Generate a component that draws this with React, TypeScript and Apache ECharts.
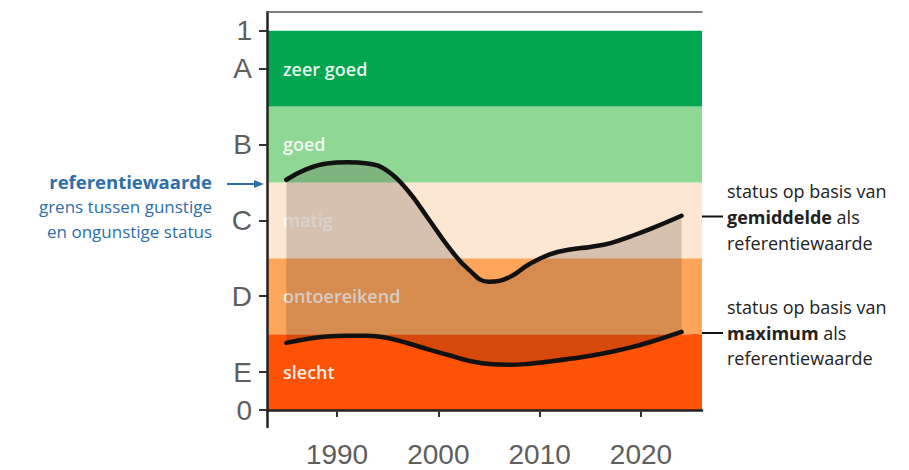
import React, { useEffect, useRef } from "react";
import * as echarts from "echarts";

const years = [1985, 1987, 1989, 1991, 1993, 1995, 1997, 1999, 2001, 2003, 2005, 2007, 2009, 2011, 2013, 2015, 2017, 2019, 2021, 2024];
const upperValues = [0.607, 0.635, 0.650, 0.653, 0.650, 0.630, 0.578, 0.505, 0.430, 0.370, 0.338, 0.350, 0.385, 0.410, 0.423, 0.430, 0.440, 0.458, 0.478, 0.512];
const lowerValues = [0.177, 0.187, 0.194, 0.196, 0.196, 0.190, 0.176, 0.160, 0.145, 0.130, 0.121, 0.119, 0.122, 0.128, 0.135, 0.143, 0.153, 0.165, 0.180, 0.206];

const bandNames = ["slecht", "ontoereikend", "matig", "goed", "zeer goed"];
const bandBounds = [0, 0.2, 0.4, 0.6, 0.8, 1];
const bandColors = ["#FE5206", "#FDA55B", "#FDE7D3", "#8FD795", "#02A650"];

const yTickValues = [0, 0.1, 0.3, 0.5, 0.7, 0.9, 1];
const yTickLabels = ["0", "E", "D", "C", "B", "A", "1"];
const xTickValues = [1990, 2000, 2010, 2020];

const FONT = "Open Sans";
const SMOOTH = 0.45;

// Same smoothing scheme as the ECharts line series, so the ribbon edges follow the curves.
function drawSegment(ctx: any, pts: number[], start: number, segLen: number, dir: number, smooth: number) {
  let prevX = 0, prevY = 0, cpx0 = 0, cpy0 = 0, cpx1 = 0, cpy1 = 0, nextCpx0 = 0, nextCpy0 = 0;
  let idx = start;
  for (let k = 0; k < segLen; k++) {
    const x = pts[idx * 2];
    const y = pts[idx * 2 + 1];
    if (k === 0) {
      if (dir > 0) ctx.moveTo(x, y);
      else ctx.lineTo(x, y);
      cpx0 = x;
      cpy0 = y;
    } else if (smooth > 0) {
      const nextIdx = idx + dir;
      if (k + 1 >= segLen) {
        cpx1 = x;
        cpy1 = y;
      } else {
        const nextX = pts[nextIdx * 2];
        const nextY = pts[nextIdx * 2 + 1];
        let vx = nextX - prevX;
        let vy = nextY - prevY;
        const lenPrev = Math.hypot(x - prevX, y - prevY);
        const lenNext = Math.hypot(nextX - x, nextY - y);
        const ratio = lenNext / (lenNext + lenPrev);
        nextCpx0 = x + vx * smooth * ratio;
        nextCpy0 = y + vy * smooth * ratio;
        nextCpx0 = Math.max(Math.min(nextCpx0, Math.max(nextX, x)), Math.min(nextX, x));
        nextCpy0 = Math.max(Math.min(nextCpy0, Math.max(nextY, y)), Math.min(nextY, y));
        vx = nextCpx0 - x;
        vy = nextCpy0 - y;
        cpx1 = x - (vx * lenPrev) / lenNext;
        cpy1 = y - (vy * lenPrev) / lenNext;
        cpx1 = Math.max(Math.min(cpx1, Math.max(prevX, x)), Math.min(prevX, x));
        cpy1 = Math.max(Math.min(cpy1, Math.max(prevY, y)), Math.min(prevY, y));
        vx = x - cpx1;
        vy = y - cpy1;
        nextCpx0 = x + (vx * lenNext) / lenPrev;
        nextCpy0 = y + (vy * lenNext) / lenPrev;
      }
      ctx.bezierCurveTo(cpx0, cpy0, cpx1, cpy1, x, y);
      cpx0 = nextCpx0;
      cpy0 = nextCpy0;
    } else {
      ctx.lineTo(x, y);
    }
    prevX = x;
    prevY = y;
    idx += dir;
  }
}

const RibbonShape = (echarts.graphic as any).extendShape({
  type: "ribbon",
  shape: { upper: [] as number[], lower: [] as number[], smooth: 0 },
  buildPath(ctx: any, shape: any) {
    const n = shape.upper.length / 2;
    if (n < 2) return;
    drawSegment(ctx, shape.upper, 0, n, 1, shape.smooth);
    drawSegment(ctx, shape.lower, n - 1, n, -1, shape.smooth);
    ctx.closePath();
  },
});
(echarts.graphic as any).registerShape("ribbon", RibbonShape);

export default function App() {
  const ref = useRef<HTMLDivElement>(null);
  useEffect(() => {
    if (!ref.current) return;
    const chart = echarts.init(ref.current, undefined, { renderer: "svg" });
    const lowerData = years.map((y, i) => [y, lowerValues[i]]);
    const upperData = years.map((y, i) => [y, upperValues[i]]);
    const ribbonData = years.map((y, i) => [y, lowerValues[i], upperValues[i]]);
    const yLabelMap: Record<string, string> = {};
    yTickValues.forEach((v, i) => (yLabelMap[String(v)] = yTickLabels[i]));

    const textStyle = (size: number, weight: number, fill: string, align: string = "left") => ({
      font: `${weight} ${size}px "${FONT}"`,
      fill,
      align,
      verticalAlign: "middle",
    });

    chart.setOption({
      animation: false,
      grid: { left: 267, right: 207, top: 12, bottom: 43, containLabel: false },
      xAxis: [
        {
          type: "value",
          min: 1983.09,
          max: 2026.02,
          splitLine: { show: false },
          axisLine: { lineStyle: { color: "#222", width: 2.5 } },
          axisTick: { show: true, customValues: xTickValues, length: 7, lineStyle: { color: "#333", width: 2 } },
          axisLabel: {
            customValues: xTickValues,
            color: "#5e5e5e",
            fontSize: 28,
            fontFamily: "Liberation Sans",
            margin: 13,
            formatter: (v: number) => String(v),
          },
        },
        {
          type: "value",
          position: "top",
          min: 1983.09,
          max: 2026.02,
          splitLine: { show: false },
          axisLine: { show: true, lineStyle: { color: "#555", width: 1.5 } },
          axisTick: { show: false },
          axisLabel: { show: false },
        },
      ],
      yAxis: {
        type: "value",
        min: -0.0448,
        max: 1.0493,
        splitLine: { show: false },
        axisLine: { show: true, lineStyle: { color: "#222", width: 2.5 } },
        axisTick: { show: true, customValues: yTickValues, length: 8, lineStyle: { color: "#333", width: 2 } },
        axisLabel: {
          customValues: yTickValues,
          color: "#5e5e5e",
          fontSize: 28,
          fontFamily: "Liberation Sans",
          margin: 15,
          formatter: (v: number) => yLabelMap[String(v)] ?? "",
        },
      },
      series: [
        {
          type: "line",
          data: [],
          z: 0,
          markArea: {
            silent: true,
            z: 0,
            label: {
              show: true,
              position: "insideLeft",
              distance: 16,
              color: "rgba(255,255,255,0.92)",
              fontSize: 18,
              fontWeight: 600,
              fontFamily: FONT,
            },
            data: bandNames.map((n, i) => [
              { name: n, yAxis: bandBounds[i], itemStyle: { color: bandColors[i], opacity: 1 } },
              { yAxis: bandBounds[i + 1] },
            ]),
          },
        },
        {
          type: "custom",
          data: ribbonData,
          encode: { x: 0, y: [1, 2] },
          z: 5,
          silent: true,
          clip: true,
          renderItem: (params: any, api: any) => {
            if (params.dataIndexInside !== 0) return { type: "group", children: [] };
            const n = params.dataInsideLength ?? ribbonData.length;
            const upper: number[] = [];
            const lower: number[] = [];
            for (let i = 0; i < n; i++) {
              const x = api.value(0, i);
              const p0 = api.coord([x, api.value(1, i)]);
              const p1 = api.coord([x, api.value(2, i)]);
              lower.push(p0[0], p0[1]);
              upper.push(p1[0], p1[1]);
            }
            return {
              type: "ribbon",
              shape: { upper, lower, smooth: SMOOTH },
              style: { fill: "rgba(60,40,30,0.2)", stroke: "none" },
            };
          },
        },
        {
          type: "line",
          data: upperData,
          smooth: SMOOTH,
          symbol: "none",
          lineStyle: { color: "#111", width: 4.5, cap: "round" },
          z: 8,
        },
        {
          type: "line",
          data: lowerData,
          smooth: SMOOTH,
          symbol: "none",
          lineStyle: { color: "#111", width: 4.5, cap: "round" },
          z: 8,
        },
      ],
      graphic: [
        // left annotation
        { type: "text", x: 212, y: 181, style: { text: "referentiewaarde", ...textStyle(18.5, 700, "#2e6eaa", "right") } },
        { type: "text", x: 212, y: 206, style: { text: "grens tussen gunstige", ...textStyle(17, 400, "#2e6eaa", "right") } },
        { type: "text", x: 212, y: 231, style: { text: "en ongunstige status", ...textStyle(17, 400, "#2e6eaa", "right") } },
        { type: "line", shape: { x1: 227, y1: 184, x2: 256, y2: 184 }, style: { stroke: "#2e6eaa", lineWidth: 2 } },
        { type: "polygon", shape: { points: [[264, 184], [254, 180], [254, 188]] }, style: { fill: "#2e6eaa" } },
        // right annotation 1
        { type: "line", shape: { x1: 723, y1: 216.5, x2: 696, y2: 216.5 }, style: { stroke: "#111", lineWidth: 2 } },
        { type: "polygon", shape: { points: [[688, 216.5], [698, 212.5], [698, 220.5]] }, style: { fill: "#111" } },
        { type: "text", x: 727, y: 191, style: { text: "status op basis van", ...textStyle(18, 400, "#222") } },
        {
          type: "text",
          x: 727,
          y: 217,
          style: {
            text: "{b|gemiddelde} als",
            ...textStyle(18, 400, "#222"),
            rich: { b: { fontWeight: 700, fontSize: 18, fontFamily: FONT, fill: "#222" } },
          },
        },
        { type: "text", x: 727, y: 243, style: { text: "referentiewaarde", ...textStyle(18, 400, "#222") } },
        // right annotation 2
        { type: "line", shape: { x1: 723, y1: 333, x2: 696, y2: 333 }, style: { stroke: "#111", lineWidth: 2 } },
        { type: "polygon", shape: { points: [[688, 333], [698, 329], [698, 337]] }, style: { fill: "#111" } },
        { type: "text", x: 727, y: 307, style: { text: "status op basis van", ...textStyle(18, 400, "#222") } },
        {
          type: "text",
          x: 727,
          y: 333,
          style: {
            text: "{b|maximum} als",
            ...textStyle(18, 400, "#222"),
            rich: { b: { fontWeight: 700, fontSize: 18, fontFamily: FONT, fill: "#222" } },
          },
        },
        { type: "text", x: 727, y: 358, style: { text: "referentiewaarde", ...textStyle(18, 400, "#222") } },
      ],
    });
    return () => chart.dispose();
  }, []);
  return (
    <div
      ref={ref}
      style={{ position: "fixed", left: 0, top: 0, width: 909, height: 470, background: "#fff" }}
    />
  );
}
